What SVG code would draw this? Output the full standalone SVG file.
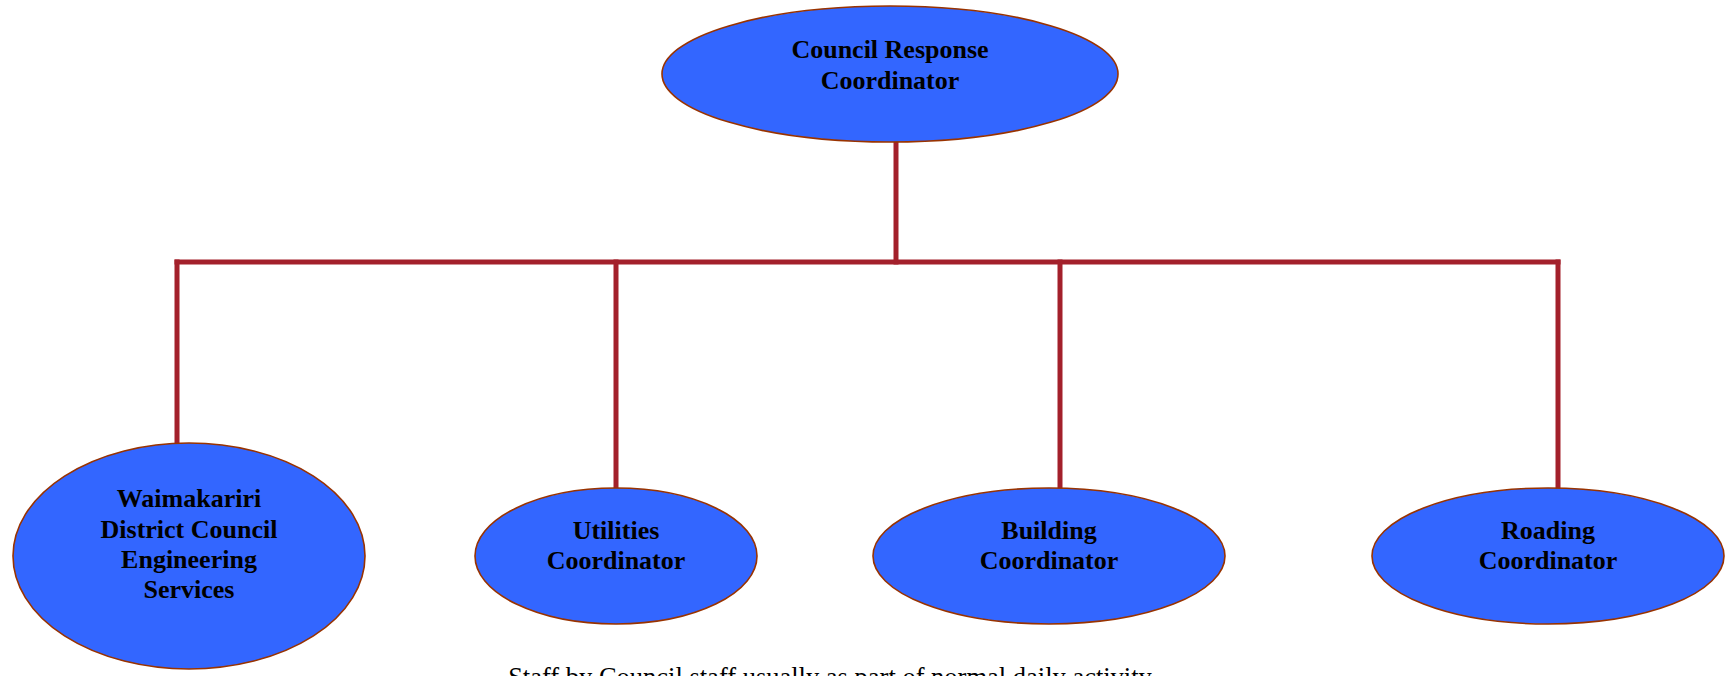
<svg xmlns="http://www.w3.org/2000/svg" width="1733" height="676" viewBox="0 0 1733 676">
<style>
.node ellipse{fill:#3366FF;stroke:#993300;stroke-width:1.6}
.node text{font-family:"Liberation Serif","Times New Roman",serif;font-weight:bold;font-size:26px;fill:#000;text-anchor:middle}
.conn{stroke:#A3202B;stroke-width:5;fill:none;stroke-linecap:square}
.caption{font-family:"Liberation Serif","Times New Roman",serif;font-size:26.5px;fill:#000;text-anchor:middle}
</style>
<rect width="1733" height="676" fill="#ffffff"/>
<g id="connectors">
<line class="conn" x1="896" y1="143" x2="896" y2="262"/>
<line class="conn" x1="177" y1="262" x2="1558" y2="262"/>
<line class="conn" x1="177" y1="262" x2="177" y2="442"/>
<line class="conn" x1="616" y1="262" x2="616" y2="487"/>
<line class="conn" x1="1060" y1="262" x2="1060" y2="487"/>
<line class="conn" x1="1558" y1="262" x2="1558" y2="487"/>
</g>
<g id="node-council-response" class="node">
<ellipse cx="890" cy="74" rx="228" ry="68"/>
<text x="890" y="58">Council Response</text>
<text x="890" y="89">Coordinator</text>
</g>
<g id="node-waimakariri" class="node">
<ellipse cx="189" cy="556" rx="176" ry="113"/>
<text x="189" y="507">Waimakariri</text>
<text x="189" y="538">District Council</text>
<text x="189" y="568">Engineering</text>
<text x="189" y="598">Services</text>
</g>
<g id="node-utilities" class="node">
<ellipse cx="616" cy="556" rx="141" ry="68"/>
<text x="616" y="539">Utilities</text>
<text x="616" y="569">Coordinator</text>
</g>
<g id="node-building" class="node">
<ellipse cx="1049" cy="556" rx="176" ry="68"/>
<text x="1049" y="539">Building</text>
<text x="1049" y="569">Coordinator</text>
</g>
<g id="node-roading" class="node">
<ellipse cx="1548" cy="556" rx="176" ry="68"/>
<text x="1548" y="539">Roading</text>
<text x="1548" y="569">Coordinator</text>
</g>
<text class="caption" x="830" y="686">Staff by Council staff usually as part of normal daily activity</text>
</svg>
